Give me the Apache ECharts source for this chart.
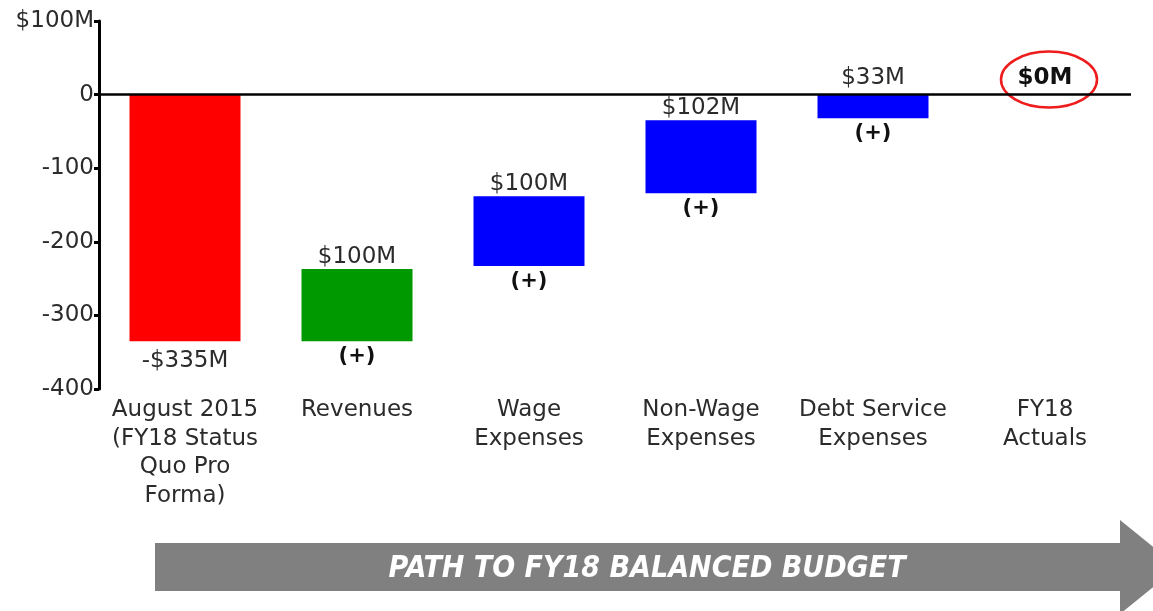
<!DOCTYPE html>
<html>
<head>
<meta charset="utf-8">
<script src="https://cdn.jsdelivr.net/npm/echarts@6/dist/echarts.min.js"></script>
<style>
  html, body { margin: 0; padding: 0; background: #fff; }
  #main { width: 1153px; height: 611px; }
</style>
</head>
<body>
<div id="main"></div>
<script>
  // categories / values
  const categories = ['August 2015\n(FY18 Status\nQuo Pro\nForma)', 'Revenues', 'Wage\nExpenses', 'Non-Wage\nExpenses', 'Debt Service\nExpenses', 'FY18\nActuals']
  // upper and lower edge of each floating bar ($M)
  const barTop = [0, -237, -138, -35, 0, 0]
  const barBottom = [-335, -335, -233, -134, -32, 0]
  const valueLabels = ['-$335M', '$100M', '$100M', '$102M', '$33M', '$0M']
  const signLabels = ['', '(+)', '(+)', '(+)', '(+)', '']
  const barColors = ['#ff0000', '#009900', '#0000ff', '#0000ff', '#0000ff', '#0000ff']
  const yTicks = [-400, -300, -200, -100, 0, 100]

  const font = 'DejaVu Sans'
  const chart = echarts.init(document.getElementById('main'))

  // stacked: invisible base up to the top edge, then the visible part down to the bottom edge
  const baseData = barTop
  const deltaData = barBottom.map((b, i) => ({
    value: b - barTop[i],
    itemStyle: { color: barColors[i] }
  }))

  // value labels: red one below its bar, others above
  const valueLabelData = valueLabels.map((t, i) => {
    const below = i === 0
    return {
      value: [i, below ? barBottom[i] : barTop[i]],
      label: {
        position: below ? 'bottom' : 'top',
        distance: below ? 8 : (i >= 4 ? 5 : 1),
        fontWeight: i === 5 ? 'bold' : 'normal',
        color: i === 5 ? '#111' : '#2b2b2b',
        formatter: t
      }
    }
  })
  const signLabelData = signLabels.map((t, i) => ({
    value: [i, barBottom[i]],
    label: { formatter: t }
  })).filter(d => d.label.formatter)

  let option = {
    animation: false,
    grid: { left: 99, right: 22, top: 21, bottom: 222 },
    xAxis: {
      type: 'category',
      data: categories,
      position: 'bottom',
      axisLine: { show: false, onZero: false },
      axisTick: { show: false },
      axisLabel: {
        interval: 0,
        margin: 7,
        fontFamily: font,
        fontSize: 23,
        lineHeight: 28.5,
        color: '#2b2b2b'
      }
    },
    yAxis: {
      type: 'value',
      min: yTicks[0],
      max: yTicks[yTicks.length - 1],
      interval: 100,
      splitLine: { show: false },
      axisLine: { show: true, lineStyle: { color: '#000', width: 3 } },
      axisTick: { show: true, length: 5, lineStyle: { color: '#000', width: 3 } },
      axisLabel: {
        margin: 5,
        fontFamily: font,
        fontSize: 23,
        color: '#2b2b2b',
        formatter: v => v === 100 ? '$100M' : String(v)
      }
    },
    series: [
      {
        name: 'base',
        type: 'bar',
        stack: 'wf',
        barWidth: 111,
        itemStyle: { color: 'transparent' },
        data: baseData,
        markLine: {
          silent: true,
          symbol: 'none',
          label: { show: false },
          lineStyle: { color: '#000', width: 2.5, type: 'solid' },
          data: [{ yAxis: 0 }]
        }
      },
      {
        name: 'change',
        type: 'bar',
        stack: 'wf',
        barWidth: 111,
        data: deltaData
      },
      {
        name: 'valueLabels',
        type: 'scatter',
        symbolSize: 0,
        itemStyle: { opacity: 1 },
        label: { show: true, fontFamily: font, fontSize: 23 },
        data: valueLabelData
      },
      {
        name: 'signLabels',
        type: 'scatter',
        symbolSize: 0,
        itemStyle: { opacity: 1 },
        label: {
          show: true,
          position: 'bottom',
          distance: 5,
          fontFamily: font,
          fontSize: 21,
          fontWeight: 'bold',
          color: '#111'
        },
        data: signLabelData
      }
    ]
  }
  chart.setOption(option)

  // red ring round the final $0M, and the grey arrow underneath
  const p = chart.convertToPixel({ gridIndex: 0 }, [5, 0])
  chart.setOption({
    graphic: [
      {
        type: 'ellipse',
        shape: { cx: p[0] + 4, cy: p[1] - 15, rx: 48, ry: 28 },
        style: { fill: 'none', stroke: '#ee1c1c', lineWidth: 2.5 },
        silent: true
      },
      {
        type: 'polygon',
        shape: {
          points: [[155, 543], [1120, 543], [1120, 520], [1178, 567], [1120, 614], [1120, 591], [155, 591]]
        },
        style: { fill: '#808080' },
        silent: true
      },
      {
        type: 'text',
        x: 647,
        y: 569,
        style: {
          text: 'PATH TO FY18 BALANCED BUDGET',
          fill: '#fff',
          font: 'italic bold 30px "Liberation Sans Narrow", "DejaVu Sans Condensed", sans-serif',
          align: 'center',
          verticalAlign: 'middle'
        },
        silent: true
      }
    ]
  })
</script>
</body>
</html>
